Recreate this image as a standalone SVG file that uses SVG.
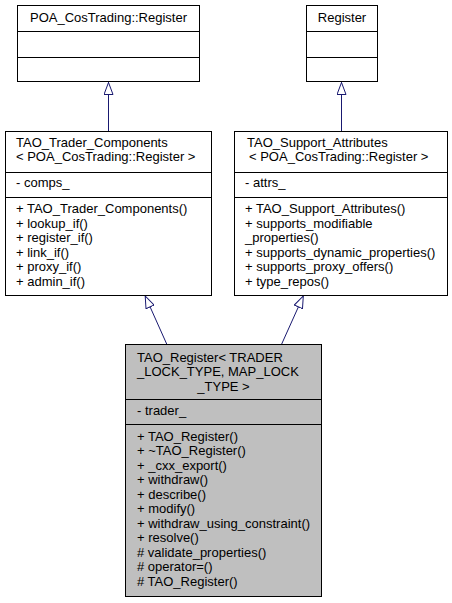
<svg xmlns="http://www.w3.org/2000/svg" width="452" height="603" viewBox="0 0 452 603">
<defs>
<style>
.box{fill:#ffffff;stroke:#000000;stroke-width:1}
.cur{fill:#bfbfbf;stroke:#000000;stroke-width:1}
.sep{stroke:#000000;stroke-width:1}
text{font-family:"Liberation Sans",Arial,Helvetica,sans-serif;font-size:13px;fill:#000000}
.c{text-anchor:middle}
.edge{stroke:#191970;stroke-width:1;fill:none;marker-end:url(#tri)}
</style>
<marker id="tri" viewBox="0 0 13 10" refX="13" refY="5" markerWidth="13" markerHeight="10" markerUnits="userSpaceOnUse" orient="auto">
<path d="M0.5,0.5 L12.5,5 L0.5,9.5 Z" fill="#ffffff" stroke="#191970" stroke-width="1"/>
</marker>
</defs>
<rect width="452" height="603" fill="#ffffff"/>
<g id="connectors">
<path class="edge" d="M108.5,131 L108.5,82"/>
<path class="edge" d="M341.5,131 L341.5,82"/>
<path class="edge" d="M166.7,344 L145,295.5"/>
<path class="edge" d="M281.7,344 L303.5,295.5"/>
</g>
<g id="node_poa_register">
<rect class="box" x="17.5" y="5.5" width="182" height="76"/>
<line class="sep" x1="17.5" y1="31.5" x2="199.5" y2="31.5"/>
<line class="sep" x1="17.5" y1="57.5" x2="199.5" y2="57.5"/>
<text class="c" x="108.5" y="22">POA_CosTrading::Register</text>
</g>
<g id="node_register">
<rect class="box" x="306.5" y="5.5" width="71" height="76"/>
<line class="sep" x1="306.5" y1="31.5" x2="377.5" y2="31.5"/>
<line class="sep" x1="306.5" y1="57.5" x2="377.5" y2="57.5"/>
<text class="c" x="342" y="22">Register</text>
</g>
<g id="node_trader_components">
<rect class="box" x="5.5" y="131.5" width="206" height="164"/>
<line class="sep" x1="5.5" y1="172.5" x2="211.5" y2="172.5"/>
<line class="sep" x1="5.5" y1="197.5" x2="211.5" y2="197.5"/>
<text x="16" y="147">TAO_Trader_Components</text>
<text x="16" y="161">&lt; POA_CosTrading::Register &gt;</text>
<text x="16" y="187">- comps_</text>
<text x="16" y="213">+ TAO_Trader_Components()</text>
<text x="16" y="227.5">+ lookup_if()</text>
<text x="16" y="242">+ register_if()</text>
<text x="16" y="256.5">+ link_if()</text>
<text x="16" y="271">+ proxy_if()</text>
<text x="16" y="285.5">+ admin_if()</text>
</g>
<g id="node_support_attributes">
<rect class="box" x="234.5" y="131.5" width="213" height="164"/>
<line class="sep" x1="234.5" y1="172.5" x2="447.5" y2="172.5"/>
<line class="sep" x1="234.5" y1="197.5" x2="447.5" y2="197.5"/>
<text x="247" y="147">TAO_Support_Attributes</text>
<text x="249" y="161">&lt; POA_CosTrading::Register &gt;</text>
<text x="245" y="187">- attrs_</text>
<text x="245" y="213">+ TAO_Support_Attributes()</text>
<text x="245" y="227.5">+ supports_modifiable</text>
<text x="245" y="242">_properties()</text>
<text x="245" y="256.5">+ supports_dynamic_properties()</text>
<text x="245" y="271">+ supports_proxy_offers()</text>
<text x="245" y="285.5">+ type_repos()</text>
</g>
<g id="node_tao_register">
<rect class="cur" x="125.5" y="344.5" width="196" height="252"/>
<line class="sep" x1="125.5" y1="399.5" x2="321.5" y2="399.5"/>
<line class="sep" x1="125.5" y1="424.5" x2="321.5" y2="424.5"/>
<text x="137" y="361.5">TAO_Register&lt; TRADER</text>
<text x="137" y="376">_LOCK_TYPE, MAP_LOCK</text>
<text class="c" x="223.5" y="390.5">_TYPE &gt;</text>
<text x="137" y="414.5">- trader_</text>
<text x="137" y="440.5">+ TAO_Register()</text>
<text x="137" y="455">+ ~TAO_Register()</text>
<text x="137" y="469.5">+ _cxx_export()</text>
<text x="137" y="484">+ withdraw()</text>
<text x="137" y="498.5">+ describe()</text>
<text x="137" y="513">+ modify()</text>
<text x="137" y="527.5">+ withdraw_using_constraint()</text>
<text x="137" y="542">+ resolve()</text>
<text x="137" y="556.5"># validate_properties()</text>
<text x="137" y="571"># operator=()</text>
<text x="137" y="585.5"># TAO_Register()</text>
</g>
</svg>
